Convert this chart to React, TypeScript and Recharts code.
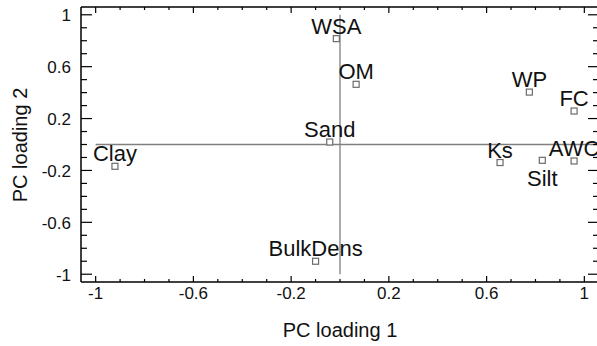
import {
  ReferenceLine,
  Scatter,
  ScatterChart,
  XAxis,
  YAxis,
} from 'recharts';

// Variable names and their loadings on the first two principal components
const variables = ['Clay', 'WSA', 'OM', 'Sand', 'WP', 'FC', 'Ks', 'Silt', 'AWC', 'BulkDens'];
const loading1 = [-0.921, -0.015, 0.066, -0.042, 0.775, 0.958, 0.655, 0.828, 0.958, -0.1];
const loading2 = [-0.168, 0.816, 0.464, 0.019, 0.404, 0.258, -0.139, -0.122, -0.127, -0.9];

// Every 0.1 gets a tick mark, only these get a number
const axisTicks = [
  -1, -0.9, -0.8, -0.7, -0.6, -0.5, -0.4, -0.3, -0.2, -0.1, 0,
  0.1, 0.2, 0.3, 0.4, 0.5, 0.6, 0.7, 0.8, 0.9, 1,
];
const labelledTicks = [-1, -0.6, -0.2, 0.2, 0.6, 1];

// labels that sit under their marker instead of above it
const labelBelow = ['Silt'];

const DOMAIN: [number, number] = [-1.06, 1.06];
const FONT = '"Liberation Sans", Arial, Helvetica, sans-serif';

// chart layout
const CHART_W = 600;
const CHART_H = 346;
const MARGIN = { top: 7, right: 1, bottom: 0, left: 0 };
const Y_AXIS_W = 81;
const X_AXIS_H = 64;
const PLOT_W = CHART_W - MARGIN.left - MARGIN.right - Y_AXIS_W;
const PLOT_H = CHART_H - MARGIN.top - MARGIN.bottom - X_AXIS_H;

// inward tick lengths
const X_MINOR = 3;
const X_MAJOR = 6;
const Y_MINOR = 6;
const Y_MAJOR = 11;

const points = variables.map((name, i) => ({ name, x: loading1[i], y: loading2[i] }));

const isMajor = (v: number) => labelledTicks.some((t) => Math.abs(t - v) < 1e-6);
const fmt = (v: number) => String(Math.round(v * 10) / 10);

const tickColor = '#000';

// Bottom axis tick: inward mark, its twin on the top frame, and the number
const XTick = (props: any) => {
  const x = Number(props.x);
  const y = Number(props.y);
  const major = isMajor(props.payload.value);
  const len = major ? X_MAJOR : X_MINOR;
  const top = y - PLOT_H;
  return (
    <g>
      <line x1={x} x2={x} y1={y} y2={y - len} stroke={tickColor} strokeWidth={1.2} />
      <line x1={x} x2={x} y1={top} y2={top + len} stroke={tickColor} strokeWidth={1.2} />
      {major && (
        <text x={x} y={y + 17} textAnchor="middle" fontSize={17} fontFamily={FONT} fill="#111">
          {fmt(props.payload.value)}
        </text>
      )}
    </g>
  );
};

// Left axis tick plus its twin on the right frame
const YTick = (props: any) => {
  const x = Number(props.x);
  const y = Number(props.y);
  const major = isMajor(props.payload.value);
  const len = major ? Y_MAJOR : Y_MINOR;
  const right = x + PLOT_W;
  return (
    <g>
      <line x1={x} x2={x + len} y1={y} y2={y} stroke={tickColor} strokeWidth={1.2} />
      <line x1={right} x2={right - len} y1={y} y2={y} stroke={tickColor} strokeWidth={1.2} />
      {major && (
        <text x={x - 10} y={y + 6.5} textAnchor="end" fontSize={17} fontFamily={FONT} fill="#111">
          {fmt(props.payload.value)}
        </text>
      )}
    </g>
  );
};

// open square marker with the variable name above (or below) it
const LoadingPoint = ({ cx, cy, payload }: any) => {
  const below = labelBelow.includes(payload.name);
  return (
    <g>
      <rect x={cx - 3} y={cy - 3} width={6} height={6} fill="#fff" stroke="#6b6b6b" strokeWidth={1.2} />
      <text
        x={cx}
        y={below ? cy + 26 : cy - 5}
        textAnchor="middle"
        fontSize={22}
        fontFamily={FONT}
        fill="#111"
      >
        {payload.name}
      </text>
    </g>
  );
};

const XTitle = () => (
  <text x={340} y={336.5} textAnchor="middle" fontSize={20} fontFamily={FONT} fill="#111">
    PC loading 1
  </text>
);

const YTitle = () => (
  <text
    x={27}
    y={145}
    textAnchor="middle"
    fontSize={20}
    fontFamily={FONT}
    fill="#111"
    transform="rotate(-90, 27, 145)"
  >
    PC loading 2
  </text>
);

const frameLine = { stroke: '#000', strokeWidth: 1.5 };

export default function App() {
  return (
    <div style={{ width: 597, height: CHART_H, overflow: 'hidden', background: '#fff' }}>
      <style>{'body { margin: 0; }'}</style>
      <ScatterChart width={CHART_W} height={CHART_H} margin={MARGIN}>
        <XAxis
          dataKey="x"
          type="number"
          domain={DOMAIN}
          allowDataOverflow
          ticks={axisTicks}
          interval={0}
          height={X_AXIS_H}
          tickSize={0}
          tickMargin={0}
          tickLine={false}
          axisLine={frameLine}
          tick={<XTick />}
          label={<XTitle />}
        />
        <YAxis
          dataKey="y"
          type="number"
          domain={DOMAIN}
          allowDataOverflow
          ticks={axisTicks}
          interval={0}
          width={Y_AXIS_W}
          tickSize={0}
          tickMargin={0}
          tickLine={false}
          axisLine={frameLine}
          tick={<YTick />}
          label={<YTitle />}
        />
        {/* top and right edges of the frame */}
        <ReferenceLine y={DOMAIN[1]} stroke="#000" strokeWidth={1.5} ifOverflow="visible" />
        <ReferenceLine x={DOMAIN[1]} stroke="#000" strokeWidth={1.5} ifOverflow="visible" />
        {/* zero lines through the origin */}
        <ReferenceLine
          segment={[{ x: -1, y: 0 }, { x: 1.06, y: 0 }]}
          stroke="#808080"
          strokeWidth={1.3}
          ifOverflow="visible"
        />
        <ReferenceLine
          segment={[{ x: 0, y: -1 }, { x: 0, y: 1 }]}
          stroke="#808080"
          strokeWidth={1.3}
          ifOverflow="visible"
        />
        <Scatter data={points} shape={<LoadingPoint />} isAnimationActive={false} />
      </ScatterChart>
    </div>
  );
}
